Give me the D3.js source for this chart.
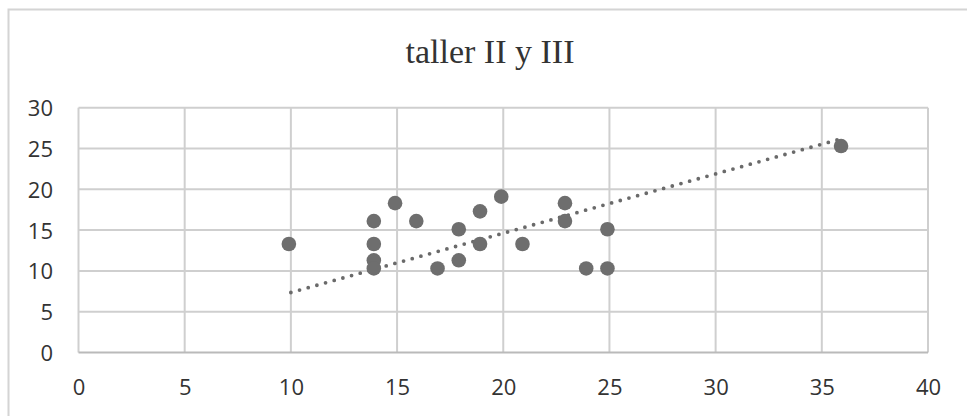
<!DOCTYPE html>
<html><head><meta charset="utf-8">
<script src="https://cdn.jsdelivr.net/npm/d3@7"></script>
<style>body{margin:0;background:#fff}svg{display:block}</style>
</head><body>
<svg id="c" width="967" height="416"></svg>
<script>
const title = "taller II y III";
const xValues = [10,14,14,14,14,15,16,17,18,18,19,19,20,21,23,23,24,25,25,36];
const yValues = [13.3,16.1,13.3,11.3,10.3,18.3,16.1,10.3,15.1,11.3,17.3,13.3,19.1,13.3,18.3,16.1,10.3,15.1,10.3,25.3];
const trendX = [10, 36];
const trendY = [7.35, 26.25];
const xTicks = [0,5,10,15,20,25,30,35,40];
const yTicks = [0,5,10,15,20,25,30];

const svg = d3.select("#c");
const x = d3.scaleLinear().domain([0,40]).range([78.5,928]);
const y = d3.scaleLinear().domain([0,30]).range([352.5,107.7]);

// outer border
svg.append("rect").attr("x",8.5).attr("y",9.5).attr("width",980).attr("height",440)
  .attr("fill","none").attr("stroke","#d4d4d4").attr("stroke-width",2);

// title
svg.append("text").attr("x",490).attr("y",63).attr("text-anchor","middle")
  .attr("font-family","'Liberation Serif','Times New Roman',serif").attr("font-size",34)
  .attr("fill","#333").text(title);

// gridlines
const g = svg.append("g");
g.selectAll(".gx").data(xTicks).join("line")
  .attr("x1",d=>x(d)).attr("x2",d=>x(d)).attr("y1",y(30)).attr("y2",y(0))
  .attr("stroke","#cfcfcf").attr("stroke-width",2);
g.selectAll(".gy").data(yTicks).join("line")
  .attr("x1",x(0)).attr("x2",x(40)).attr("y1",d=>y(d)).attr("y2",d=>y(d))
  .attr("stroke",d=>d===0?"#bababa":"#cfcfcf").attr("stroke-width",2);

// axes labels via d3 axes
const xAxis = d3.axisBottom(x).tickValues(xTicks).tickSize(0).tickPadding(0);
const xg = svg.append("g").attr("transform","translate(0,379)").call(xAxis);
xg.select(".domain").remove();
xg.selectAll("text").attr("font-family","'Open Sans',sans-serif").attr("font-size",22)
  .attr("fill","#333").attr("dy","0.71em");

const yAxis = d3.axisLeft(y).tickValues(yTicks).tickSize(0).tickPadding(0);
const yg = svg.append("g").attr("transform","translate(53,0)").call(yAxis);
yg.select(".domain").remove();
yg.selectAll("text").attr("font-family","'Open Sans',sans-serif").attr("font-size",22)
  .attr("fill","#333").attr("dy","0.36em");

// trendline
svg.append("path").datum(trendX.map((v,i)=>[v,trendY[i]]))
  .attr("d",d3.line().x(d=>x(d[0])).y(d=>y(d[1])))
  .attr("fill","none").attr("stroke","#6a6a6a").attr("stroke-width",3.8)
  .attr("stroke-linecap","round").attr("stroke-dasharray","0 9");

// points
svg.append("g").selectAll("circle").data(xValues.map((v,i)=>[v,yValues[i]])).join("circle")
  .attr("cx",d=>x(d[0])-2).attr("cy",d=>y(d[1])).attr("r",7.3).attr("fill","#6e6e6e");
</script>
</body></html>
